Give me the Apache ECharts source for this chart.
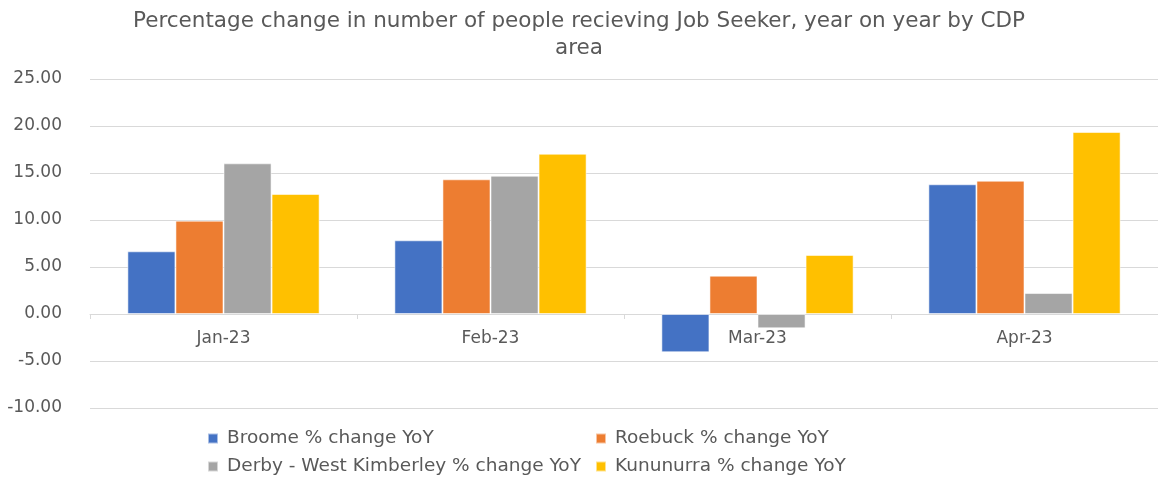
<!DOCTYPE html>
<html>
<head>
<meta charset="utf-8">
<style>
  html, body { margin: 0; padding: 0; background: #fff; }
  #chart { width: 1158px; height: 479px; }
</style>
<script src="https://cdn.jsdelivr.net/npm/echarts@6/dist/echarts.min.js"></script>
</head>
<body>
<div id="chart"></div>
<script>
// Months shown along the category axis
const months = ['Jan-23', 'Feb-23', 'Mar-23', 'Apr-23'];

// Year-on-year % change in Job Seeker recipients, per CDP area
const broome = [6.67, 7.84, -4.07, 13.80];
const roebuck = [9.93, 14.33, 4.08, 14.18];
const derbyWestKimberley = [16.03, 14.71, -1.52, 2.23];
const kununurra = [12.77, 17.05, 6.28, 19.36];

const seriesNames = [
  'Broome % change YoY',
  'Roebuck % change YoY',
  'Derby - West Kimberley % change YoY',
  'Kununurra % change YoY'
];
const seriesColors = ['#4472C4', '#ED7D31', '#A5A5A5', '#FFC000'];
const seriesValues = [broome, roebuck, derbyWestKimberley, kununurra];

// Value axis range
const Y_MIN = -10;
const Y_MAX = 25;
const Y_STEP = 5;

const FONT = 'DejaVu Sans';
const TEXT = '#595959';

const W = 1158, H = 479;
const GRID = { left: 90, right: 0, top: 79, bottom: 71 };
const plotHeight = H - GRID.top - GRID.bottom;
// Lift the category axis (line, ticks and labels) up to the zero line
const zeroOffset = -plotHeight * (0 - Y_MIN) / (Y_MAX - Y_MIN);

const chart = echarts.init(document.getElementById('chart'));

// One legend block per entry so the two columns line up
const legendSpots = [
  { left: 207, top: 429 },
  { left: 595, top: 429 },
  { left: 207, top: 457 },
  { left: 595, top: 457 }
];

chart.setOption({
  animation: false,
  textStyle: { fontFamily: FONT, color: TEXT },
  title: {
    text: 'Percentage change in number of people recieving Job Seeker, year on year by CDP\narea',
    left: 'center',
    top: 3,
    textStyle: {
      fontFamily: FONT,
      fontWeight: 'normal',
      fontSize: 21.5,
      color: TEXT,
      lineHeight: 27,
      align: 'center'
    }
  },
  legend: seriesNames.map((name, i) => ({
    data: [name],
    left: legendSpots[i].left,
    top: legendSpots[i].top,
    icon: 'rect',
    itemWidth: 10,
    itemHeight: 10,
    itemGap: 0,
    padding: 0,
    textStyle: { fontFamily: FONT, fontSize: 18.5, color: TEXT, padding: [0, 0, 0, 4] }
  })),
  grid: { left: GRID.left, right: GRID.right, top: GRID.top, bottom: GRID.bottom, containLabel: false },
  xAxis: {
    type: 'category',
    data: months,
    offset: zeroOffset,
    axisLine: { onZero: false, lineStyle: { color: '#D9D9D9', width: 1 } },
    axisTick: { show: true, length: 5, lineStyle: { color: '#D9D9D9' } },
    axisLabel: { fontFamily: FONT, fontSize: 17, color: TEXT, margin: 16 },
    splitLine: { show: false }
  },
  yAxis: {
    type: 'value',
    min: Y_MIN,
    max: Y_MAX,
    interval: Y_STEP,
    axisLine: { show: false },
    axisTick: { show: false },
    axisLabel: {
      fontFamily: FONT,
      fontSize: 17,
      color: TEXT,
      margin: 28,
      formatter: v => v.toFixed(2)
    },
    splitLine: { lineStyle: { color: '#D9D9D9', width: 1 } }
  },
  series: seriesNames.map((name, i) => ({
    name: name,
    type: 'bar',
    data: seriesValues[i],
    barGap: '0%',
    barCategoryGap: '28%',
    itemStyle: {
      color: seriesColors[i],
      borderColor: 'rgba(255,255,255,0.55)',
      borderWidth: 1
    }
  }))
});
</script>
</body>
</html>
